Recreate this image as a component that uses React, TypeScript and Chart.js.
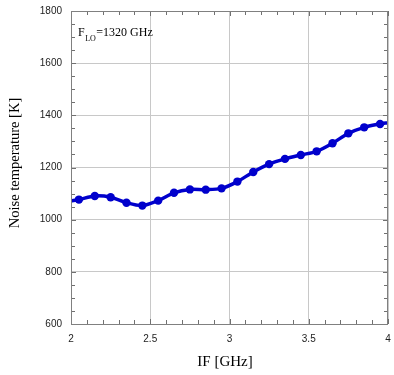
import React, { useEffect, useRef } from "react";
import { Chart, registerables } from "chart.js";

Chart.register(...registerables);

const ifGHz = [2.0, 2.05, 2.15, 2.25, 2.35, 2.45, 2.55, 2.65, 2.75, 2.85, 2.95, 3.05, 3.15, 3.25, 3.35, 3.45, 3.55, 3.65, 3.75, 3.85, 3.95, 4.0];
const noiseK = [1072, 1077, 1091, 1086, 1065, 1054, 1073, 1103, 1116, 1115, 1120, 1146, 1183, 1213, 1233, 1248, 1262, 1293, 1331, 1354, 1367, 1372];
const markerShown = [false, true, true, true, true, true, true, true, true, true, true, true, true, true, true, true, true, true, true, true, true, false];

const xTicks = [2, 2.5, 3, 3.5, 4];
const yTicks = [600, 800, 1000, 1200, 1400, 1600, 1800];
const xTitle = "IF [GHz]";
const yTitle = "Noise temperature [K]";
const noteMain = "F";
const noteSub = "LO";
const noteRest = "=1320 GHz";

const SERIF = "'Liberation Serif', 'Times New Roman', serif";
const SANS = "'Liberation Sans', Arial, sans-serif";

const framePlugin = {
  id: "frameAndText",
  afterDraw(chart: any) {
    const { ctx, chartArea: a, scales } = chart;
    const xs = scales.x;
    const ys = scales.y;
    ctx.save();
    // minor/major ticks inward on all four sides
    ctx.strokeStyle = "#707070";
    ctx.lineWidth = 1;
    ctx.beginPath();
    for (let i = 0; i <= 20; i++) {
      const v = 2 + i * 0.1;
      const px = Math.round(xs.getPixelForValue(v)) + 0.5;
      const len = i % 5 === 0 ? 5 : 4;
      ctx.moveTo(px, a.bottom);
      ctx.lineTo(px, a.bottom - len);
      ctx.moveTo(px, a.top);
      ctx.lineTo(px, a.top + len);
    }
    for (let i = 0; i <= 24; i++) {
      const v = 600 + i * 50;
      const py = Math.round(ys.getPixelForValue(v)) + 0.5;
      const len = i % 4 === 0 ? 5 : 4;
      ctx.moveTo(a.left, py);
      ctx.lineTo(a.left + len, py);
      ctx.moveTo(a.right, py);
      ctx.lineTo(a.right - len, py);
    }
    ctx.stroke();
    // frame
    ctx.strokeStyle = "#808080";
    ctx.strokeRect(Math.round(a.left) + 0.5, Math.round(a.top) + 0.5, Math.round(a.right - a.left) - 1, Math.round(a.bottom - a.top));
    // titles
    ctx.fillStyle = "#000";
    ctx.textAlign = "center";
    ctx.textBaseline = "middle";
    ctx.font = `15px ${SERIF}`;
    ctx.fillText(xTitle, 225, 362);
    ctx.save();
    ctx.translate(15, 163);
    ctx.rotate(-Math.PI / 2);
    ctx.font = `14.5px ${SERIF}`;
    ctx.fillText(yTitle, 0, 0);
    ctx.restore();
    // annotation
    ctx.textAlign = "left";
    ctx.textBaseline = "alphabetic";
    ctx.font = `12px ${SERIF}`;
    ctx.fillText(noteMain, 78, 36);
    const fw = ctx.measureText(noteMain).width;
    ctx.font = `8px ${SERIF}`;
    ctx.fillText(noteSub, 78 + fw + 0.5, 41);
    const sw = ctx.measureText(noteSub).width;
    ctx.font = `12px ${SERIF}`;
    ctx.fillText(noteRest, 78 + fw + sw + 1, 36);
    ctx.restore();
  },
};

export default function App() {
  const ref = useRef<HTMLCanvasElement>(null);
  useEffect(() => {
    document.body.style.margin = "0";
    const canvas = ref.current!;
    const chart = new Chart(canvas, {
      type: "line",
      data: {
        datasets: [
          {
            data: ifGHz.map((x, i) => ({ x, y: noiseK[i] })),
            borderColor: "#0000CC",
            backgroundColor: "#0000CC",
            borderWidth: 3.5,
            pointRadius: markerShown.map((m) => (m ? 4.2 : 0)),
            pointBorderWidth: 0,
            pointHoverRadius: 4,
            tension: 0.3,
            fill: false,
          },
        ],
      },
      options: {
        animation: false,
        responsive: false,
        devicePixelRatio: 1,
        layout: { padding: { top: 11, right: 6, left: 0, bottom: 0 } },
        plugins: { legend: { display: false }, tooltip: { enabled: false } },
        scales: {
          x: {
            type: "linear",
            min: 2,
            max: 4,
            afterFit: (s: any) => { s.height = 51; s.paddingLeft = 0; s.paddingRight = 0; },
            afterBuildTicks: (s: any) => { s.ticks = xTicks.map((v) => ({ value: v })); },
            ticks: {
              padding: 9,
              color: "#222",
              font: { family: SANS, size: 10 },
              maxRotation: 0,
              callback: (v: any) => String(v),
            },
            grid: { color: "#c8c8c8", drawTicks: false, lineWidth: 1 },
            border: { display: false },
          },
          y: {
            type: "linear",
            min: 600,
            max: 1800,
            afterFit: (s: any) => { s.width = 71; s.paddingTop = 0; s.paddingBottom = 0; },
            afterBuildTicks: (s: any) => { s.ticks = yTicks.map((v) => ({ value: v })); },
            ticks: {
              padding: 9,
              color: "#222",
              font: { family: SANS, size: 10 },
              callback: (v: any) => String(v),
            },
            grid: { color: "#c8c8c8", drawTicks: false, lineWidth: 1 },
            border: { display: false },
          },
        },
      },
      plugins: [framePlugin],
    });
    return () => chart.destroy();
  }, []);
  return (
    <div style={{ position: "absolute", left: 0, top: 0, width: 394, height: 375, background: "#fff" }}>
      <canvas ref={ref} width={394} height={375} style={{ width: 394, height: 375, display: "block" }} />
    </div>
  );
}
